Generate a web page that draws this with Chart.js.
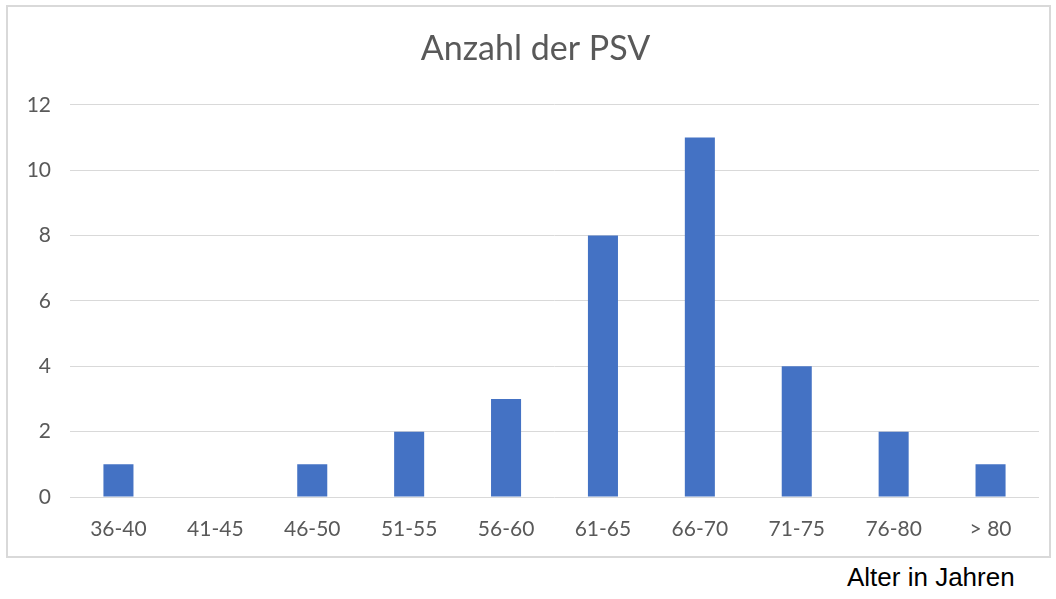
<!DOCTYPE html>
<html>
<head>
<meta charset="utf-8">
<script src="https://cdn.jsdelivr.net/npm/chart.js@4"></script>
<style>
    body { margin: 0; background: #ffffff; }
    #box {
        position: absolute;
        left: 6px;
        top: 5px;
        width: 1041px;
        height: 549px;
        border: 2px solid #d9d9d9;
    }
    #axisNote {
        position: absolute;
        left: 847px;
        top: 562px;
        font-family: "Liberation Sans", Arial, sans-serif;
        font-size: 26px;
        color: #000000;
        white-space: nowrap;
    }
</style>
</head>
<body>
<div id="box"><canvas id="barChart" width="1041" height="549"></canvas></div>
<div id="axisNote">Alter in Jahren</div>
<script>
const ageGroups = ['36-40', '41-45', '46-50', '51-55', '56-60', '61-65', '66-70', '71-75', '76-80', '> 80'];
const psvCounts = [1, 0, 1, 2, 3, 8, 11, 4, 2, 1];
const yTicks = [0, 2, 4, 6, 8, 10, 12];

document.addEventListener('DOMContentLoaded', function() {
    createBarChart();
});

// nudge the title a bit to the right, like in the original
const titleShift = {
    id: 'titleShift',
    afterLayout: function(chart) {
        if (chart.titleBlock) chart.titleBlock.left += 24;
    }
};

function createBarChart() {
    const ctx = document.getElementById('barChart').getContext('2d');
    new Chart(ctx, {
        type: 'bar',
        data: {
            labels: ageGroups,
            datasets: [{
                label: 'Anzahl der PSV',
                data: psvCounts,
                backgroundColor: '#4472c4',
                barPercentage: 0.31,
                categoryPercentage: 1
            }]
        },
        options: {
            responsive: false,
            animation: false,
            layout: {
                padding: { left: 0, right: 10, top: 0, bottom: 0 }
            },
            plugins: {
                legend: { display: false },
                tooltip: { enabled: false },
                title: {
                    display: true,
                    text: 'Anzahl der PSV',
                    color: '#595959',
                    font: { family: 'Lato', size: 34, weight: 'normal' },
                    padding: { top: 22, bottom: 35 }
                }
            },
            scales: {
                x: {
                    grid: { display: false },
                    border: { display: false },
                    ticks: {
                        color: '#595959',
                        font: { family: 'Lato', size: 21 },
                        padding: 12,
                        maxRotation: 0
                    },
                    afterFit: function(scale) { scale.height = 59; }
                },
                y: {
                    min: 0,
                    max: 12,
                    afterBuildTicks: function(scale) {
                        scale.ticks = yTicks.map(v => ({ value: v }));
                    },
                    grid: { color: '#d9d9d9', drawTicks: false },
                    border: { display: false },
                    ticks: {
                        color: '#595959',
                        font: { family: 'Lato', size: 21 },
                        padding: 19
                    },
                    afterFit: function(scale) { scale.width = 62; }
                }
            }
        },
        plugins: [titleShift]
    });
}
</script>
</body>
</html>
